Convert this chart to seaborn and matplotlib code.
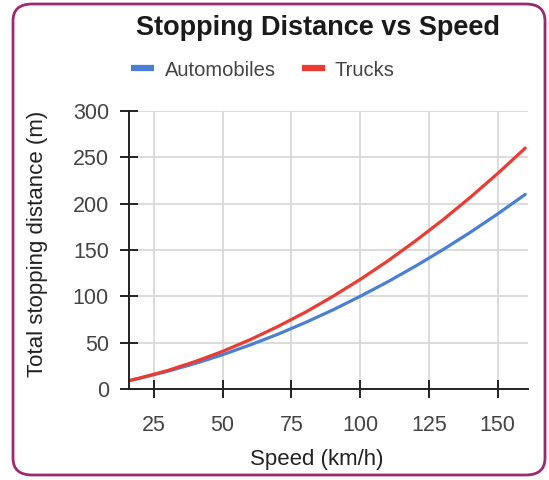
import matplotlib
matplotlib.use("Agg")
import matplotlib.pyplot as plt
from matplotlib.patches import FancyBboxPatch
from matplotlib.lines import Line2D
import seaborn as sns
import pandas as pd

speed = [16, 20, 30, 40, 50, 60, 70, 80, 90, 100, 110, 120, 130, 140, 150, 160]
automobiles = [9, 11.7, 19.1, 27.5, 37, 47.5, 59, 71.6, 85.2, 100, 115.6, 132.4, 150.2, 169, 189, 210]
trucks = [9, 11.9, 19.9, 29.6, 40.6, 53.2, 67.3, 82.7, 99.8, 118.2, 138.1, 159.6, 182.4, 206.8, 232.6, 260]
series_names = ["Automobiles", "Trucks"]
colors = ["#4a7fd4", "#ee3b32"]
x_ticks = [25, 50, 75, 100, 125, 150]
y_ticks = [0, 50, 100, 150, 200, 250, 300]

df = pd.DataFrame({
    "Speed": speed * 2,
    "Distance": automobiles + trucks,
    "Vehicle": [series_names[0]] * len(speed) + [series_names[1]] * len(speed),
})

sns.set_theme(style="white")
plt.rcParams["font.family"] = ["Liberation Sans", "DejaVu Sans"]
plt.rcParams["xtick.bottom"] = True
plt.rcParams["ytick.left"] = True

fig = plt.figure(figsize=(5.49, 4.8), dpi=100)
ax = fig.add_axes([129 / 549, 1 - 389 / 480, (528 - 129) / 549, (389 - 111) / 480])

sns.lineplot(data=df, x="Speed", y="Distance", hue="Vehicle", palette=colors,
             linewidth=2.3, ax=ax, legend=False)

ax.set_xlim(16, 161)
ax.set_ylim(0, 300)
ax.set_xticks(x_ticks)
ax.set_yticks(y_ticks)
ax.grid(True, color="#d6d6d6", linewidth=1.2)
ax.set_axisbelow(True)
for s in ["top", "right"]:
    ax.spines[s].set_visible(False)
for s in ["left", "bottom"]:
    ax.spines[s].set_color("#222222")
    ax.spines[s].set_linewidth(1.4)
ax.tick_params(axis="both", direction="inout", length=13, width=1.4, color="#222222",
               labelsize=15.5, labelcolor="#444444", bottom=True, left=True)
ax.tick_params(axis="y", pad=8)
ax.tick_params(axis="x", pad=12)
ax.set_xlabel("Speed (km/h)", fontsize=16, color="#222222")
ax.set_ylabel("Total stopping distance (m)", fontsize=16, color="#222222")
ax.xaxis.set_label_coords((316.5 - 129) / 399, (389 - 460) / 278)
ax.yaxis.set_label_coords((38 - 129) / 399, (389 - 243.5) / 278)
ax.xaxis.label.set_va("center")
ax.yaxis.label.set_va("center")
ax.yaxis.label.set_ha("center")

fig.text(318 / 549, 1 - 28 / 480, "Stopping Distance vs Speed", ha="center", va="center",
         fontsize=19.5, fontweight="bold", color="#1a1a1a")

handles = [Line2D([], [], color=c, linewidth=4.5, solid_capstyle="butt") for c in colors]
fig.legend(handles, series_names, loc="center", bbox_to_anchor=(263 / 549, 1 - 70 / 480),
           ncol=2, frameon=False, fontsize=14.5, handlelength=1.15, columnspacing=1.3,
           handletextpad=0.5, labelcolor="#444444")

border = FancyBboxPatch((13 / 549, 5 / 480), (545 - 13) / 549, (476 - 5) / 480,
                        boxstyle="round,pad=0,rounding_size=0.035", transform=fig.transFigure,
                        fill=False, edgecolor="#9e2a6e", linewidth=2, clip_on=False)
fig.patches.append(border)

fig.savefig("out.png", dpi=100)
